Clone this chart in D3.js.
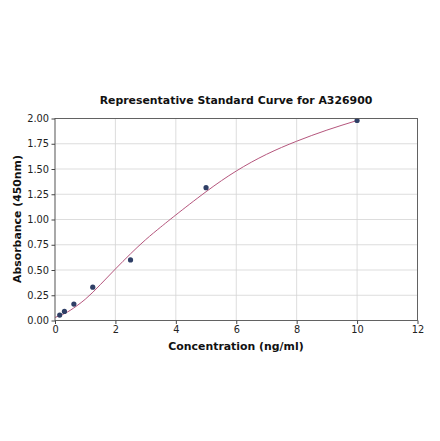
<!DOCTYPE html>
<html><head><meta charset="utf-8">
<script src="https://cdn.jsdelivr.net/npm/d3@7"></script>
<style>body{margin:0;background:#fff}svg{display:block}text{font-family:"DejaVu Sans",sans-serif}</style>
</head><body>
<script>
const title = "Representative Standard Curve for A326900";
const xLabel = "Concentration (ng/ml)";
const yLabel = "Absorbance (450nm)";
const pointConc = [0.156, 0.3125, 0.625, 1.25, 2.5, 5, 10];
const pointAbs = [0.054, 0.09, 0.163, 0.33, 0.60, 1.315, 1.98];
const curveConc = [0, 0.25, 0.5, 1, 1.5, 2, 2.5, 3, 3.5, 4, 5, 6, 7, 8, 9, 10];
const curveAbs = [0.03, 0.06, 0.10, 0.21, 0.355, 0.51, 0.66, 0.80, 0.925, 1.045, 1.275, 1.48, 1.645, 1.775, 1.885, 1.98];
const xTicks = [0, 2, 4, 6, 8, 10, 12];
const yTicks = [0, 0.25, 0.5, 0.75, 1.0, 1.25, 1.5, 1.75, 2.0];

const W = 440, H = 441;
const m = {left: 55, right: 417.5, top: 118.5, bottom: 320.5};
const svg = d3.select("body").append("svg").attr("width", W).attr("height", H);
const x = d3.scaleLinear().domain([0, 12]).range([m.left, m.right]);
const y = d3.scaleLinear().domain([0, 2]).range([m.bottom, m.top]);

// grid
svg.append("g").selectAll("line").data(xTicks).join("line")
  .attr("x1", d => x(d)).attr("x2", d => x(d)).attr("y1", m.top).attr("y2", m.bottom)
  .attr("stroke", "#d4d4d4").attr("stroke-width", 0.8);
svg.append("g").selectAll("line").data(yTicks).join("line")
  .attr("y1", d => y(d)).attr("y2", d => y(d)).attr("x1", m.left).attr("x2", m.right)
  .attr("stroke", "#d4d4d4").attr("stroke-width", 0.8);

// curve
const line = d3.line().x((d, i) => x(curveConc[i])).y((d, i) => y(curveAbs[i])).curve(d3.curveNatural);
svg.append("path").datum(curveAbs).attr("d", line).attr("fill", "none")
  .attr("stroke", "#b5567d").attr("stroke-width", 1);

// points
svg.append("g").selectAll("circle").data(pointConc).join("circle")
  .attr("cx", d => x(d)).attr("cy", (d, i) => y(pointAbs[i])).attr("r", 2.6)
  .attr("fill", "#2f3f66");

// frame
svg.append("rect").attr("x", m.left).attr("y", m.top).attr("width", m.right - m.left)
  .attr("height", m.bottom - m.top).attr("fill", "none").attr("stroke", "#555").attr("stroke-width", 0.9);

// axes
const xAxis = svg.append("g").attr("transform", `translate(0,${m.bottom})`)
  .call(d3.axisBottom(x).tickValues(xTicks).tickFormat(d3.format("d")).tickSize(3.5).tickPadding(2.5));
const yAxis = svg.append("g").attr("transform", `translate(${m.left},0)`)
  .call(d3.axisLeft(y).tickValues(yTicks).tickFormat(d3.format(".2f")).tickSize(3.5).tickPadding(2.5));
[xAxis, yAxis].forEach(a => {
  a.select(".domain").remove();
  a.selectAll("line").attr("stroke", "#444");
  a.selectAll("text").attr("font-size", 9.8).attr("fill", "#222").attr("font-family", "DejaVu Sans");
});

svg.append("text").attr("x", 236).attr("y", 103.5).attr("text-anchor", "middle")
  .attr("font-weight", "bold").attr("font-size", 10.9).attr("fill", "#111").text(title);
svg.append("text").attr("x", 236).attr("y", 350).attr("text-anchor", "middle")
  .attr("font-weight", "bold").attr("font-size", 10.9).attr("fill", "#111").text(xLabel);
svg.append("text").attr("transform", "translate(20.5,219) rotate(-90)").attr("text-anchor", "middle")
  .attr("font-weight", "bold").attr("font-size", 10.9).attr("fill", "#111").text(yLabel);
</script>
</body></html>
